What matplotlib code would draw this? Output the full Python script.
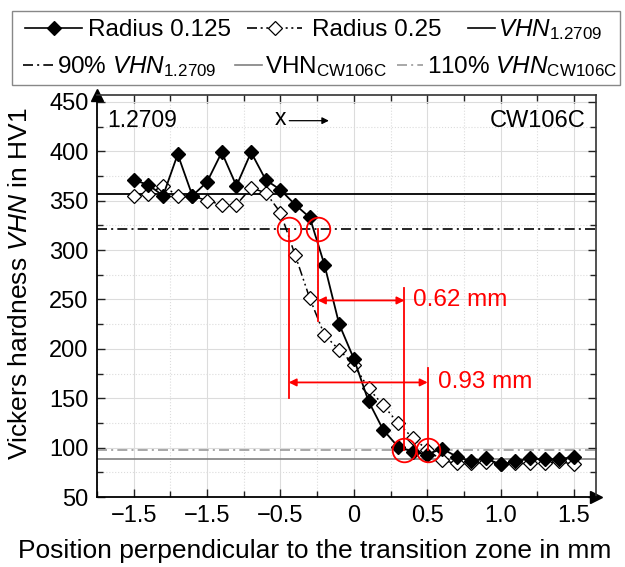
import numpy as np
import matplotlib
matplotlib.use("Agg")
import matplotlib.pyplot as plt
from matplotlib.lines import Line2D
from matplotlib.patches import Rectangle
from matplotlib.ticker import MultipleLocator, FixedLocator, FixedFormatter

plt.rcParams['font.family'] = ['Liberation Sans', 'DejaVu Sans']
plt.rcParams['mathtext.fontset'] = 'custom'
plt.rcParams['mathtext.rm'] = 'Liberation Sans'
plt.rcParams['mathtext.it'] = 'Liberation Sans:italic'
plt.rcParams['mathtext.bf'] = 'Liberation Sans:bold'

# --- data ---
position = [-1.5, -1.4, -1.3, -1.2, -1.1, -1.0, -0.9, -0.8, -0.7, -0.6, -0.5,
            -0.4, -0.3, -0.2, -0.1, 0.0, 0.1, 0.2, 0.3, 0.4, 0.5,
            0.6, 0.7, 0.8, 0.9, 1.0, 1.1, 1.2, 1.3, 1.4, 1.5]
hv_radius_0125 = [371, 366, 355, 397, 355, 369, 399, 365, 399, 371, 361,
                  346, 333, 285, 225, 190, 147, 118, 101, 96, 93,
                  99, 91, 86, 89, 83, 86, 89, 88, 88, 91]
hv_radius_025 = [355, 357, 365, 355, 355, 350, 346, 346, 363, 358, 338,
                 295, 251, 214, 199, 184, 160, 143, 125, 110, 98,
                 87, 84, 84, 85, 83, 84, 84, 84, 86, 83]
vhn_12709 = 356.5
vhn_cw106c = 88.5

x_ticks = [-1.5, -1.0, -0.5, 0.0, 0.5, 1.0, 1.5]
x_ticklabels = ["\u22121.5", "\u22121.5", "\u22120.5", "0", "0.5", "1.0", "1.5"]

# transition markers (red)
circle_x = [-0.444, -0.245, 0.345, 0.503]
circle_y = [0.9 * vhn_12709, 0.9 * vhn_12709, 1.1 * vhn_cw106c, 1.1 * vhn_cw106c]
vline_x = [-0.444, -0.245, 0.345, 0.503]
vline_lo = [150, 228, 1.1 * vhn_cw106c, 1.1 * vhn_cw106c]
vline_hi = [0.9 * vhn_12709, 0.9 * vhn_12709, 262, 181]
span_labels = ["0.62 mm", "0.93 mm"]
span_left = [-0.245, -0.444]
span_right = [0.345, 0.503]
span_y = [249, 166]
span_text_x = [0.40, 0.572]

W, H = 625, 567
fig = plt.figure(figsize=(W / 100, H / 100), dpi=100)
ax = fig.add_axes([97 / W, 1 - 497 / H, 499 / W, 402 / H])

dashdot = (0, (6, 2.5, 1.2, 2.5))
dashdotdot = (0, (6, 2.2, 1.2, 2.2, 1.2, 2.2))

# reference lines
ax.axhline(vhn_12709, color='black', lw=1.3, zorder=2)
ax.axhline(0.9 * vhn_12709, color='black', lw=1.2, ls=dashdot, zorder=2)
ax.axhline(vhn_cw106c, color='#808080', lw=1.2, zorder=2)
ax.axhline(1.1 * vhn_cw106c, color='#999999', lw=1.2, ls=dashdot, zorder=2)

# measured series
ax.plot(position, hv_radius_025, color='black', lw=1.1, ls=dashdotdot,
        marker='D', ms=7, mfc='white', mec='black', mew=0.9, zorder=3)
ax.plot(position, hv_radius_0125, color='black', lw=1.3,
        marker='D', ms=7.5, mfc='black', mec='black', zorder=4)

# red annotations
red = '#ff0000'
for x, lo, hi in zip(vline_x, vline_lo, vline_hi):
    ax.plot([x, x], [lo, hi], color=red, lw=1.3, zorder=5)
ax.plot(circle_x, circle_y, ls='none', marker='o', ms=17, mfc='none',
        mec=red, mew=1.3, zorder=6)
for lab, xl, xr, y, xt in zip(span_labels, span_left, span_right, span_y, span_text_x):
    ax.annotate("", xy=(xr, y), xytext=(xl, y),
                arrowprops=dict(arrowstyle="<|-|>", color=red, lw=1.3,
                                mutation_scale=11, shrinkA=0, shrinkB=0), zorder=6)
    ax.text(xt, y, lab, color=red, fontsize=17.5, va='center', ha='left', zorder=6)

# material labels and direction arrow
ax.text(-1.68, 431, "1.2709", fontsize=16.5, va='center', ha='left')
ax.text(1.58, 431, "CW106C", fontsize=17, va='center', ha='right')
ax.text(-0.50, 433, "x", fontsize=16.5, va='center', ha='center')
ax.annotate("", xy=(-0.17, 431), xytext=(-0.44, 431),
            arrowprops=dict(arrowstyle="-|>", color='black', lw=0.9,
                            mutation_scale=10, shrinkA=0, shrinkB=0))

# axes
ax.set_xlim(-1.75, 1.65)
ax.set_ylim(50, 457)
ax.xaxis.set_major_locator(FixedLocator(x_ticks))
ax.xaxis.set_major_formatter(FixedFormatter(x_ticklabels))
ax.xaxis.set_minor_locator(MultipleLocator(0.25))
ax.yaxis.set_major_locator(MultipleLocator(50))
ax.yaxis.set_minor_locator(MultipleLocator(25))
ax.tick_params(which='both', direction='in', top=True, right=True,
               labelsize=17, width=1.0, color='#222222')
ax.tick_params(which='major', length=6, pad=6)
ax.tick_params(which='minor', length=4)
ax.grid(which='major', color='#dcdcdc', lw=0.8, zorder=0)
ax.grid(which='minor', color='#dcdcdc', lw=0.8, ls=':', zorder=0)
ax.set_axisbelow(True)
for side in ['left', 'bottom']:
    ax.spines[side].set_linewidth(1.3)
for side in ['top', 'right']:
    ax.spines[side].set_linewidth(1.2)
    ax.spines[side].set_color('#333333')
ax.plot(0, 1, marker='^', color='black', ms=8, transform=ax.transAxes, clip_on=False)
ax.plot(1, 0, marker='>', color='black', ms=8, transform=ax.transAxes, clip_on=False)

ax.set_xlabel("Position perpendicular to the transition zone in mm", fontsize=19)
ax.xaxis.set_label_coords((315 - 97) / 499, -0.105)
ax.set_ylabel(r"Vickers hardness $\mathit{VHN}$ in HV1", fontsize=19)
ax.yaxis.set_label_coords(-0.13, 0.53)

# legend drawn by hand, two free-flowing rows inside a box
def px(x, y):
    return x / W, 1 - y / H

fig.add_artist(Rectangle(px(12, 85), 608 / W, 74 / H, transform=fig.transFigure,
                         fill=False, edgecolor='#888888', lw=1.0))
legend_rows = [
    # (x0, x1, y, line style, colour, marker, marker face, text x, baseline, label)
    (25, 82, 28, '-', 'black', 'D', 'black', 88, 36, "Radius 0.125"),
    (247, 302, 28, dashdotdot, 'black', 'D', 'white', 312, 36, "Radius 0.25"),
    (468, 495, 28, '-', 'black', None, None, 498, 36, r"$\mathit{VHN}_{\mathrm{1.2709}}$"),
    (23, 53, 65, dashdot, 'black', None, None, 57, 73, r"90% $\mathit{VHN}_{\mathrm{1.2709}}$"),
    (235, 262, 65, '-', '#808080', None, None, 265, 73, r"$\mathrm{VHN}_{\mathrm{CW106C}}$"),
    (397, 423, 65, dashdot, '#999999', None, None, 427, 73, r"110% $\mathit{VHN}_{\mathrm{CW106C}}$"),
]
for x0, x1, y, ls, col, mk, mfc, tx, tb, lab in legend_rows:
    a, b = px(x0, y)
    c, _ = px(x1, y)
    fig.add_artist(Line2D([a, c], [b, b], transform=fig.transFigure, color=col,
                          lw=1.2, ls=ls))
    if mk:
        fig.add_artist(Line2D([(a + c) / 2], [b], transform=fig.transFigure, ls='none',
                              marker=mk, ms=7.5, mfc=mfc, mec='black', mew=0.9))
    fig.text(*px(tx, tb), lab, fontsize=17.5, ha='left', va='baseline')

fig.savefig("out.png", dpi=100)
